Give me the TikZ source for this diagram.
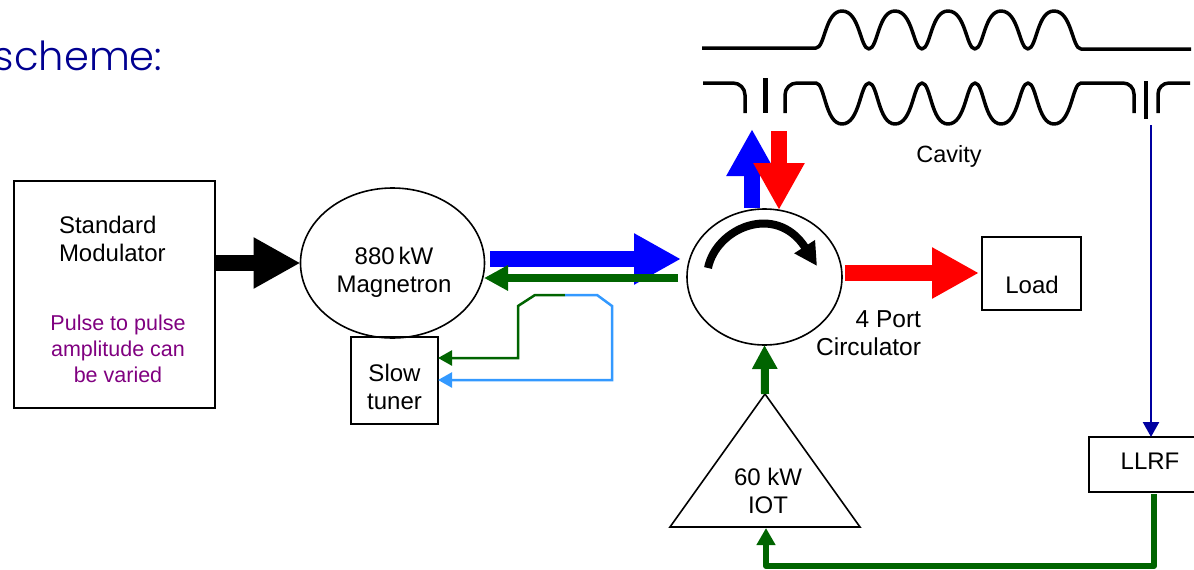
\documentclass[tikz,border=0pt]{standalone}
\usepackage{fontspec}
\setmainfont{Liberation Sans}
\newfontfamily\titlefont[UprightFont=* Light]{Poppins}
\usetikzlibrary{arrows.meta,shapes.geometric}
\definecolor{dkgreen}{RGB}{0,100,0}
\definecolor{ltblue}{RGB}{51,153,255}
\definecolor{navyline}{RGB}{0,0,160}
\definecolor{titleblue}{RGB}{0,0,145}
\begin{document}
\begin{tikzpicture}[x=1pt,y=-1pt,
	every node/.style={inner sep=0,outer sep=0,font=\fontsize{24}{28}\selectfont},
	box/.style={draw,line width=1.6pt},
	lbl/.style={align=center},
	wall/.style={line width=3.5pt,line join=round},
	fat/.style={line width=16pt,-{Triangle[length=47pt,width=48pt]}},
	mid/.style={dkgreen,line width=8pt,-{Triangle[length=24pt,width=24pt]}},
	thin/.style={line width=2.5pt,-{Triangle[length=14pt,width=15pt]}}]
\useasboundingbox (0,0) rectangle (1194,570);
\node[text=titleblue,anchor=base west,font=\titlefont\fontsize{40}{48}\selectfont] (title) at (-6,70) {scheme:};

% blocks
\node[box,minimum width=201pt,minimum height=227pt] (modulator) at (114.5,294.5) {};
\node[box,ellipse,minimum width=184pt,minimum height=150pt] (magnetron) at (392.5,263) {};
\node[box,ellipse,minimum width=155pt,minimum height=136pt] (circulator) at (764.5,277) {};
\node[box,minimum width=87pt,minimum height=87pt] (tuner) at (394.5,380.5) {};
\node[box,minimum width=99pt,minimum height=73pt] (load) at (1031.5,273.5) {};
\node[box,minimum width=122pt,minimum height=55pt] (llrf) at (1150,464.5) {};
\node[box,isosceles triangle,isosceles triangle stretches,shape border rotate=90,
	minimum width=190pt,minimum height=133pt,anchor=apex] (iot) at (765,394) {};

% texts
\node[lbl,align=left,anchor=west] (modtext) at (59,239) {Standard\\Modulator};
\node[lbl,text={rgb,255:red,128;green,0;blue,128},font=\fontsize{21.5}{26}\selectfont] (pulsetext) at (118,349) {Pulse to pulse\\amplitude can\\be varied};
\node[lbl] (magtext) at (394,272) {880\,kW\\Magnetron};
\node[lbl] (tunertext) at (394.5,387) {Slow\\tuner};
\node[lbl] (llrftext) at (1150,461) {LLRF};
\node[lbl] (loadtext) at (1032,285) {Load};
\node[lbl,align=right,anchor=east,font=\fontsize{24.5}{28}\selectfont] (porttext) at (921,333) {4 Port\\Circulator};
\node[lbl,font=\fontsize{23.5}{28}\selectfont] (cavitytext) at (949,156) {Cavity};
\node[lbl] (iottext) at (768,491) {60 kW\\IOT};

% cavity
\draw[wall] (702,48) -- (816,48) foreach \hx in {816,869,922,975,1028} {
	.. controls ({\hx+9},48) and ({\hx+9},11) .. ({\hx+26},11)
	.. controls ({\hx+44},11) and ({\hx+44},49) .. ({\hx+53},49)} -- (1191,49);
\draw[wall] (703,83) -- (733,83) to[out=0,in=90] (745,95) -- (745,113);
\draw[line width=5pt] (765,78) -- (765,113);
\draw[wall] (785,113) -- (785,95) to[out=90,in=180] (797,83) -- (816,83) foreach \hx in {816,869,922,975,1028} {
	.. controls ({\hx+9},83) and ({\hx+9},124) .. ({\hx+26},124)
	.. controls ({\hx+44},124) and ({\hx+44},83) .. ({\hx+53},83)} -- (1123,83) to[out=0,in=90] (1134,94) -- (1134,113);
\draw[line width=3.5pt] (1146,81) -- (1146,119);
\draw[wall] (1158,113) -- (1158,94) to[out=90,in=180] (1169,83) -- (1190,83);

% power lines
\coordinate (bluestart) at (490,259);
\coordinate (blueend) at (681,259);
\coordinate (greenstart) at (678,278);
\coordinate (greenend) at (484,278);
\coordinate (upstart) at (752,208);
\coordinate (upend) at (752,129);
\coordinate (downstart) at (779,131);
\coordinate (downend) at (779,210);
\coordinate (loadstart) at (845,273);
\coordinate (loadend) at (979,273);
\coordinate (split) at (565,295);
\coordinate (sense) at (1151,125);
\coordinate (llrfout) at (1154,494);
\coordinate (iotin) at (766,528);
\coordinate (turnstart) at (708,268);
\coordinate (turnend) at (817,266);

\draw[fat] (modulator.east |- magnetron) -- (magnetron.west);
\draw[fat,blue] (bluestart) -- (blueend);
\draw[mid] (greenstart) -- (greenend);
\draw[fat,blue] (upstart) -- (upend);
\draw[fat,red] (downstart) -- (downend);
\draw[fat,red] (loadstart) -- (loadend);
\draw[mid] (iot.apex) -- (circulator.south);

% tuner loop
\draw[thin,dkgreen] (split) -- (535,295) -- (518,306) -- (518,358) -- (tuner.east |- 0,358);
\draw[thin,ltblue] (split) -- (597,295) -- (612,306) -- (612,380) -- (tuner.east |- 0,380);

% rf
\draw[navyline,line width=2.5pt,-{Triangle[length=15pt,width=16pt]}] (sense) -- (sense |- llrf.north);
\draw[dkgreen,line width=6pt,line join=round,-{Triangle[length=17pt,width=18pt]}] (llrfout) -- (1154,566) -- (766,566) -- (iotin);

% direction of the circulator
\draw[line width=8pt,-{Triangle[length=23pt,width=23pt]}] (turnstart) .. controls (716,228) and (776,202) .. (turnend);
\end{tikzpicture}
\end{document}
